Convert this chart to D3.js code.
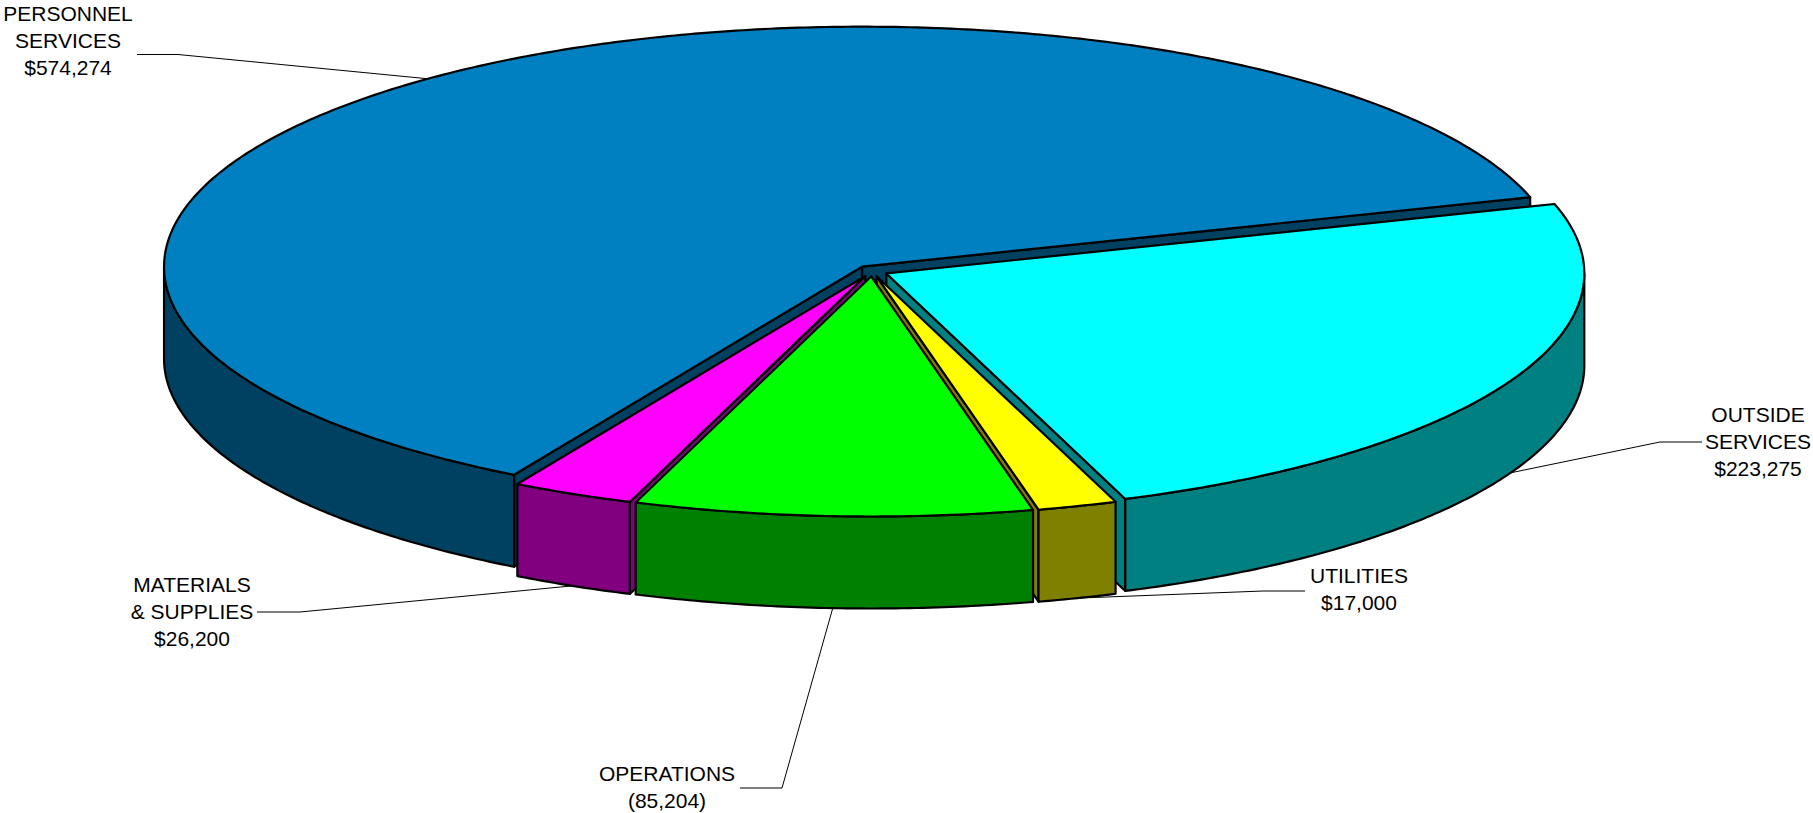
<!DOCTYPE html>
<html>
<head>
<meta charset="utf-8">
<title>Budget 3D Pie</title>
<style>
body { margin: 0; background: #fff; }
.face { stroke: #000; stroke-width: 2.2px; stroke-linejoin: round; }
.leader { fill: none; stroke: #000; stroke-width: 1px; }
.lbl { font-family: "Liberation Sans", Arial, sans-serif; font-size: 21px; fill: #000; }
</style>
</head>
<body>
<script src="https://d3js.org/d3.v7.min.js"></script>
<script>

// Data
var categories = ["PERSONNEL SERVICES", "OUTSIDE SERVICES", "UTILITIES", "OPERATIONS", "MATERIALS & SUPPLIES"];
var nameLines = [["PERSONNEL", "SERVICES"], ["OUTSIDE", "SERVICES"], ["UTILITIES"], ["OPERATIONS"], ["MATERIALS", "& SUPPLIES"]];
var values = [574274, 223275, 17000, 85204, 26200];
var valueLabels = ["$574,274", "$223,275", "$17,000", "(85,204)", "$26,200"];

// Styles
var topColors = ["#0080C0", "#00FFFF", "#FFFF00", "#00FF00", "#FF00FF"];
var sideColors = ["#004060", "#008080", "#808000", "#008000", "#800080"];

// Label layout: text centre x, first baseline, elbow of leader (start x, elbow x, y)
var labelLayout = [
    {x: 68,   y: 21,  lx0: 137,  lx1: 178,  ly: 54.5},
    {x: 1758, y: 422, lx0: 1702, lx1: 1660, ly: 442},
    {x: 1359, y: 583, lx0: 1305, lx1: 1263, ly: 591},
    {x: 667,  y: 781, lx0: 740,  lx1: 782,  ly: 788},
    {x: 192,  y: 592, lx0: 257,  lx1: 300,  ly: 612}
];

// Dimensions
var width = 1813, height = 813;
var cx = 872, cy = 271;       // pie centre
var rx = 698, ry = 240;       // ellipse radii of the top
var depth = 92;               // thickness
var explode = 16;             // slice offset
var lineH = 27;

var startDeg = 209.9;
var pie = d3.pie().sort(null).value(function(d) { return d; })
    .startAngle(startDeg * Math.PI / 180)
    .endAngle(startDeg * Math.PI / 180 + 2 * Math.PI);

var arcs = pie(values);

var svg = d3.select("body").append("svg")
    .attr("width", width)
    .attr("height", height);

function offset(d) {
    var m = (d.startAngle + d.endAngle) / 2;
    return [explode * Math.sin(m), -explode * Math.cos(m) * ry / rx];
}

function pt(d, theta, r, z) {
    var o = offset(d);
    return [cx + o[0] + rx * r * Math.sin(theta), cy + o[1] - ry * r * Math.cos(theta) + z];
}

function arcPts(d, t0, t1, z) {
    var n = Math.max(2, Math.ceil(Math.abs(t1 - t0) / 0.01));
    var pts = [];
    for (var i = 0; i <= n; i++) {
        pts.push(pt(d, t0 + (t1 - t0) * i / n, 1, z));
    }
    return pts;
}

var line = d3.line();
var faces = [];

arcs.forEach(function(d, i) {
    var a = d.startAngle, b = d.endAngle;
    // outer curved side, front half only
    for (var k = -1; k <= 2; k++) {
        var lo = Math.max(a, Math.PI / 2 + 2 * Math.PI * k);
        var hi = Math.min(b, 3 * Math.PI / 2 + 2 * Math.PI * k);
        if (hi > lo) {
            var pts = arcPts(d, lo, hi, 0).concat(arcPts(d, hi, lo, depth));
            faces.push({pts: pts, fill: sideColors[i], key: d3.max(pts.slice(0, pts.length / 2), function(p) { return p[1]; })});
        }
    }
    // radial faces
    [[a, Math.sin(a) < 0], [b, Math.sin(b) > 0]].forEach(function(f) {
        if (!f[1]) return;
        var c = pt(d, f[0], 0, 0), r = pt(d, f[0], 1, 0);
        var pts = [c, r, [r[0], r[1] + depth], [c[0], c[1] + depth]];
        faces.push({pts: pts, fill: sideColors[i], key: (c[1] + r[1]) / 2});
    });
});

faces.sort(function(p, q) { return p.key - q.key; });

svg.append("g").selectAll("path.side")
    .data(faces)
    .enter().append("path")
    .attr("class", "face side")
    .attr("d", function(f) { return line(f.pts) + "Z"; })
    .attr("fill", function(f) { return f.fill; });

svg.append("g").selectAll("path.top")
    .data(arcs)
    .enter().append("path")
    .attr("class", "face top")
    .attr("d", function(d) {
        return line([pt(d, 0, 0, 0)].concat(arcPts(d, d.startAngle, d.endAngle, 0))) + "Z";
    })
    .attr("fill", function(d, i) { return topColors[i]; });

// Leaders and labels
var labels = svg.append("g");
arcs.forEach(function(d, i) {
    var L = labelLayout[i];
    var m = (d.startAngle + d.endAngle) / 2;
    var anchor = pt(d, m, 1, Math.cos(m) < 0 ? depth : 0);
    labels.append("path")
        .attr("class", "leader")
        .attr("d", line([[L.lx0, L.ly], [L.lx1, L.ly], anchor]));
    var txt = nameLines[i].concat([valueLabels[i]]);
    labels.append("text")
        .attr("class", "lbl")
        .attr("text-anchor", "middle")
        .selectAll("tspan")
        .data(txt)
        .enter().append("tspan")
        .attr("x", L.x)
        .attr("y", function(t, j) { return L.y + j * lineH; })
        .text(function(t) { return t; });
});

</script>
</body>
</html>
